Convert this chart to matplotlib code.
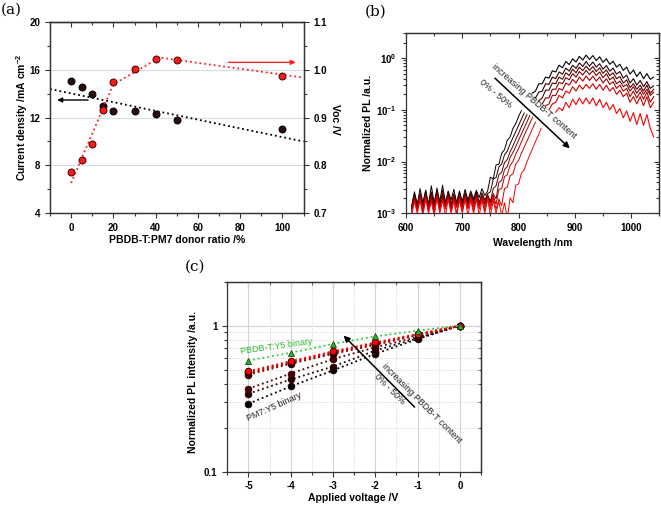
import numpy as np
import matplotlib
matplotlib.use('Agg')
import matplotlib.pyplot as plt
from matplotlib.ticker import MultipleLocator, LogLocator, NullFormatter, FuncFormatter, FixedLocator

plt.rcParams['font.family'] = ['Liberation Sans', 'DejaVu Sans']
plt.rcParams['font.weight'] = 'bold'
plt.rcParams['axes.unicode_minus'] = False
plt.rcParams['mathtext.fontset'] = 'custom'
plt.rcParams['mathtext.rm'] = 'Liberation Sans:bold'
plt.rcParams['mathtext.bf'] = 'Liberation Sans:bold'

# ---- (a) Jsc / Voc vs donor ratio
ratio = [0, 5, 10, 15, 20, 30, 40, 50, 100]
jsc = [15.08, 14.57, 13.98, 12.97, 12.58, 12.53, 12.31, 11.80, 11.02]
voc = [0.785, 0.812, 0.844, 0.916, 0.974, 1.003, 1.0225, 1.020, 0.9875]
jsc_fit_x = [-10, 110]
jsc_fit_y = [14.4, 10.0]
voc_fit_x = [0, 20, 42, 110]
voc_fit_y = [0.763, 0.970, 1.026, 0.984]

# ---- (b) PL spectra, 0% (black) -> 50% (red)
wl_lo = np.arange(610, 846, 5)        # short-wavelength detector part
wl_hi = np.arange(824, 1041, 6)       # long-wavelength part (curves end at 1040)
pl_lo = [  # units of 1e-3
    [1.4, 2.6, 1.5, 3.0, 1.6, 2.8, 1.5, 3.4, 1.6, 2.9, 1.7, 3.5, 1.6, 2.7, 1.8, 2.9, 1.6, 2.6, 1.7, 2.9,
     1.8, 2.7, 1.9, 2.8, 2.0, 3.0, 2.2, 2.7, 5.0, 4.6, 8.6, 8.9, 14.5, 17, 26, 30, 44, 54, 75, 96],
    [1.3, 2.4, 1.4, 2.2, 1.5, 2.7, 1.3, 2.5, 1.4, 3.1, 1.5, 2.4, 1.4, 2.6, 1.5, 2.3, 1.6, 2.7, 1.5, 2.4,
     1.6, 2.5, 1.7, 2.6, 1.6, 2.5, 1.8, 2.4, 2.6, 4.6, 4.9, 7.9, 9.0, 13.5, 16, 22, 29, 38, 50, 66, 87],
    [1.2, 2.2, 1.3, 2.5, 1.4, 2.1, 1.3, 2.6, 1.4, 2.3, 1.3, 2.8, 1.5, 2.2, 1.4, 2.4, 1.5, 2.2, 1.4, 2.5,
     1.5, 2.3, 1.6, 2.4, 1.5, 2.2, 1.6, 2.3, 1.7, 3.0, 3.4, 5.6, 6.2, 9.6, 11, 15.5, 20, 27, 35, 47, 62, 81],
    [1.2, 2.0, 1.2, 2.3, 1.3, 2.4, 1.2, 2.1, 1.3, 2.5, 1.2, 2.2, 1.4, 2.4, 1.3, 2.1, 1.4, 2.3, 1.3, 2.2,
     1.4, 2.4, 1.5, 2.1, 1.4, 2.3, 1.5, 2.2, 1.6, 2.4, 1.9, 4.0, 4.3, 7.0, 8.0, 12, 15, 19.5, 26, 34, 45, 59, 78],
    [1.1, 1.9, 1.2, 2.1, 1.1, 2.2, 1.2, 2.0, 1.1, 2.3, 1.2, 2.0, 1.3, 2.2, 1.2, 2.0, 1.3, 2.1, 1.2, 2.2,
     1.3, 2.0, 1.3, 2.2, 1.4, 2.0, 1.3, 2.1, 1.4, 2.2, 1.5, 2.9, 3.0, 5.1, 5.6, 8.5, 10, 14, 18, 24, 32, 42, 55, 72],
    [1.0, 1.8, 1.1, 1.9, 1.0, 2.0, 1.1, 1.8, 1.0, 2.1, 1.1, 1.8, 1.2, 2.0, 1.1, 1.9, 1.0, 2.0, 1.1, 1.9,
     1.2, 2.0, 1.1, 1.9, 1.2, 2.0, 1.1, 1.9, 1.2, 2.0, 1.2, 1.9, 1.4, 3.0, 3.2, 5.3, 5.8, 9.0, 10.5, 14.5, 19, 25, 33, 44, 58],
    [0.9, 1.7, 1.0, 1.8, 0.9, 1.9, 1.0, 1.7, 0.9, 2.0, 1.0, 1.8, 0.9, 1.9, 1.0, 1.7, 0.9, 1.8, 1.0, 1.9,
     0.9, 1.8, 1.0, 1.9, 0.9, 1.8, 1.0, 1.9, 0.9, 1.8, 1.0, 1.7, 0.9, 1.6, 0.8, 2.0, 1.6, 3.5, 3.7, 6.0, 6.9, 10, 13.5, 18, 24.5, 32, 44],
]
pl_hi = [
    [0.21, 0.23, 0.32, 0.32, 0.43, 0.41, 0.57, 0.54, 0.73, 0.65, 0.86, 0.75, 0.97, 0.84, 1.08, 0.92, 1.14, 0.94, 1.12, 0.90,
     1.06, 0.83, 0.97, 0.76, 0.87, 0.67, 0.76, 0.58, 0.67, 0.49, 0.59, 0.44, 0.54, 0.40, 0.50, 0.39, 0.43],
    [0.17, 0.22, 0.23, 0.32, 0.31, 0.43, 0.40, 0.54, 0.49, 0.64, 0.56, 0.73, 0.63, 0.81, 0.69, 0.86, 0.70, 0.84, 0.67, 0.78,
     0.61, 0.72, 0.56, 0.64, 0.49, 0.55, 0.41, 0.47, 0.33, 0.40, 0.30, 0.37, 0.28, 0.35, 0.26, 0.29],
    [0.15, 0.17, 0.24, 0.24, 0.33, 0.32, 0.43, 0.39, 0.52, 0.46, 0.61, 0.52, 0.67, 0.57, 0.70, 0.58, 0.69, 0.55, 0.65, 0.51,
     0.59, 0.46, 0.52, 0.40, 0.44, 0.33, 0.38, 0.27, 0.32, 0.25, 0.30, 0.23, 0.30, 0.21, 0.25],
    [0.13, 0.17, 0.17, 0.25, 0.25, 0.34, 0.32, 0.42, 0.38, 0.50, 0.43, 0.55, 0.47, 0.58, 0.48, 0.57, 0.46, 0.54, 0.42, 0.50,
     0.38, 0.43, 0.32, 0.36, 0.28, 0.31, 0.23, 0.28, 0.21, 0.26, 0.20, 0.25, 0.19, 0.22],
    [0.12, 0.13, 0.19, 0.19, 0.26, 0.24, 0.33, 0.30, 0.39, 0.33, 0.43, 0.36, 0.45, 0.37, 0.45, 0.36, 0.43, 0.33, 0.40, 0.31,
     0.35, 0.26, 0.30, 0.23, 0.26, 0.18, 0.23, 0.17, 0.22, 0.16, 0.22, 0.14, 0.18],
    [0.10, 0.13, 0.14, 0.19, 0.17, 0.23, 0.21, 0.28, 0.23, 0.30, 0.25, 0.31, 0.26, 0.32, 0.25, 0.31, 0.24, 0.30, 0.23, 0.27,
     0.20, 0.24, 0.18, 0.21, 0.14, 0.18, 0.13, 0.18, 0.12, 0.18, 0.11, 0.14],
    [0.09, 0.11, 0.097, 0.14, 0.11, 0.16, 0.126, 0.17, 0.13, 0.17, 0.13, 0.17, 0.12, 0.16, 0.11, 0.14, 0.10, 0.127, 0.085, 0.106,
     0.07, 0.096, 0.06, 0.088, 0.052, 0.085, 0.05, 0.081, 0.044, 0.03],
]
blend_colors = ['#000000', '#2a0000', '#550000', '#800000', '#aa0000', '#d40000', '#ff0000']

# ---- (c) PL quenching vs applied voltage
voltage = [-5, -4, -3, -2, -1, 0]
pl_blend = [
    [0.292, 0.384, 0.494, 0.641, 0.810, 1.0],   # PM7:Y5 binary
    [0.342, 0.428, 0.525, 0.675, 0.820, 1.0],
    [0.370, 0.470, 0.590, 0.711, 0.835, 1.0],
    [0.462, 0.548, 0.640, 0.738, 0.860, 1.0],
    [0.472, 0.556, 0.650, 0.748, 0.866, 1.0],
    [0.480, 0.564, 0.658, 0.758, 0.872, 1.0],
    [0.488, 0.572, 0.667, 0.768, 0.878, 1.0],
]
pl_pbdbt = [0.577, 0.652, 0.750, 0.845, 0.925, 1.0]

W, H = 661, 508
TICK_FS = 7
LABEL_FS = 7.5
NOTE_FS = 6.5


def box(l, t, r, b):
    return [l / W, 1 - b / H, (r - l) / W, (b - t) / H]


def style(ax):
    for s in ax.spines.values():
        s.set_linewidth(0.9)
        s.set_color('#333333')
    ax.tick_params(which='both', direction='out', labelsize=TICK_FS, width=0.8, color='#333333')
    ax.tick_params(which='major', length=3.5)
    ax.tick_params(which='minor', length=2)


def bold_ticks(ax):
    for lab in ax.get_xticklabels() + ax.get_yticklabels():
        lab.set_fontweight('bold')
        lab.set_family('Liberation Sans')


def mirror_x(ax, major, minor):
    sec = ax.secondary_xaxis('top')
    sec.xaxis.set_major_locator(major)
    sec.xaxis.set_minor_locator(minor)
    sec.tick_params(which='both', direction='in', labeltop=False, width=0.8, color='#333333')
    sec.tick_params(which='major', length=3.5)
    sec.tick_params(which='minor', length=2)
    sec.spines['top'].set_linewidth(0.9)
    sec.spines['top'].set_color('#333333')


def mirror_y_log(ax):
    sec = ax.secondary_yaxis('right')
    sec.yaxis.set_major_locator(LogLocator(base=10, numticks=10))
    sec.yaxis.set_minor_locator(LogLocator(base=10, subs=np.arange(2, 10), numticks=20))
    sec.yaxis.set_minor_formatter(NullFormatter())
    sec.tick_params(which='both', direction='in', labelright=False, width=0.8, color='#333333')
    sec.tick_params(which='major', length=3.5)
    sec.tick_params(which='minor', length=2)
    sec.spines['right'].set_linewidth(0.9)
    sec.spines['right'].set_color('#333333')


def note(ax, x, y, s, rot, color='#222222'):
    ax.text(x, y, s, rotation=rot, rotation_mode='anchor', ha='center', va='center',
            fontsize=NOTE_FS, fontweight='normal', family='Liberation Sans', color=color)


def arrow(ax, start, end, color='k', lw=1.1, head=9):
    ax.annotate('', xy=end, xytext=start,
                arrowprops=dict(arrowstyle='-|>', color=color, lw=lw, mutation_scale=head, shrinkA=0, shrinkB=0))


fig = plt.figure(figsize=(6.61, 5.08), dpi=100)

# ================= (a)
ax_a = fig.add_axes(box(50, 22.3, 303.5, 213))
ax_a2 = ax_a.twinx()
style(ax_a)
style(ax_a2)
ax_a.set_xlim(-10, 110)
ax_a.set_ylim(4, 20)
ax_a2.set_ylim(0.7, 1.1)
ax_a.xaxis.set_major_locator(MultipleLocator(20))
ax_a.xaxis.set_minor_locator(MultipleLocator(10))
ax_a.yaxis.set_major_locator(MultipleLocator(4))
ax_a.yaxis.set_minor_locator(MultipleLocator(2))
ax_a2.yaxis.set_major_locator(MultipleLocator(0.1))
ax_a2.yaxis.set_minor_locator(MultipleLocator(0.05))
ax_a2.yaxis.set_major_formatter(FuncFormatter(lambda v, p: '%.1f' % v))
ax_a.set_axisbelow(True)
ax_a.yaxis.grid(True, color='#d6dde0', lw=0.8)
mirror_x(ax_a, MultipleLocator(20), MultipleLocator(10))

ax_a.plot(jsc_fit_x, jsc_fit_y, ls=':', color='k', lw=1.3)
ax_a.plot(ratio, jsc, 'o', ls='none', mfc='#2b0b0b', mec='k', ms=5, mew=0.7)
ax_a2.plot(voc_fit_x, voc_fit_y, ls=':', color='#ff2020', lw=1.3)
ax_a2.plot(ratio, voc, 'o', ls='none', mfc='#ff1a1a', mec='#3a0000', ms=5, mew=0.7)
arrow(ax_a, (8, 13.48), (-6.6, 13.48), lw=1.0, head=7)
arrow(ax_a, (74.4, 16.64), (106.3, 16.64), color='#ff2020', lw=1.0, head=7)

ax_a.set_xlabel('PBDB-T:PM7 donor ratio /%', fontsize=LABEL_FS, fontweight='bold', va='center')
ax_a.xaxis.set_label_coords(0.5, -0.142)
ax_a.set_ylabel(r'Current density /mA cm$^{\mathbf{-2}}$', fontsize=LABEL_FS, fontweight='bold', va='center')
ax_a.yaxis.set_label_coords(-0.112, 0.5)
fig.text(335 / W, 1 - 119 / H, 'Voc /V', rotation=270, ha='center', va='center',
         fontsize=LABEL_FS, fontweight='bold')
bold_ticks(ax_a)
bold_ticks(ax_a2)

# ================= (b)
ax_b = fig.add_axes(box(406, 32.7, 659.3, 213.3))
style(ax_b)
ax_b.set_yscale('log')
ax_b.set_xlim(600, 1050)
ax_b.set_ylim(1e-3, 3.1)
ax_b.xaxis.set_major_locator(MultipleLocator(100))
ax_b.xaxis.set_minor_locator(MultipleLocator(50))
ax_b.yaxis.set_major_locator(LogLocator(base=10, numticks=10))
ax_b.yaxis.set_minor_locator(LogLocator(base=10, subs=np.arange(2, 10), numticks=20))
ax_b.yaxis.set_minor_formatter(NullFormatter())
ax_b.yaxis.set_major_formatter(FuncFormatter(lambda v, p: r'$\mathbf{10^{%d}}$' % round(np.log10(v))))
mirror_x(ax_b, MultipleLocator(100), MultipleLocator(50))
mirror_y_log(ax_b)

for lo, hi, c in zip(pl_lo, pl_hi, blend_colors):
    ax_b.plot(wl_lo[:len(lo)], np.array(lo) * 1e-3, color=c, lw=0.7)
    ax_b.plot(wl_hi[-len(hi):], hi, color=c, lw=0.8)

arrow(ax_b, (758, 0.41), (891, 0.018))
note(ax_b, 827.4, 0.147, 'increasing PBDB-T content', -41)
note(ax_b, 758.6, 0.207, '0% - 50%', -40)

ax_b.set_xlabel('Wavelength /nm', fontsize=LABEL_FS, fontweight='bold', va='center')
ax_b.xaxis.set_label_coords(0.5, -0.163)
ax_b.set_ylabel('Normalized PL /a.u.', fontsize=LABEL_FS, fontweight='bold', va='center')
ax_b.yaxis.set_label_coords(-0.149, 0.5)
bold_ticks(ax_b)

# ================= (c)
ax_c = fig.add_axes(box(227.3, 281.7, 481, 471.7))
style(ax_c)
ax_c.set_yscale('log')
ax_c.set_xlim(-5.5, 0.5)
ax_c.set_ylim(0.1, 2.0)
ax_c.xaxis.set_major_locator(MultipleLocator(1))
ax_c.xaxis.set_minor_locator(MultipleLocator(0.5))
ax_c.xaxis.set_major_formatter(FuncFormatter(lambda v, p: '%d' % round(v)))
ax_c.yaxis.set_major_locator(FixedLocator([0.1, 1]))
ax_c.yaxis.set_major_formatter(FuncFormatter(lambda v, p: '%g' % v))
ax_c.yaxis.set_minor_locator(LogLocator(base=10, subs=np.arange(2, 10), numticks=20))
ax_c.yaxis.set_minor_formatter(NullFormatter())
ax_c.set_axisbelow(True)
ax_c.grid(which='major', color='#cdd6da', lw=0.8)
ax_c.grid(which='minor', color='#c8c8c8', lw=0.6, ls=':')
mirror_x(ax_c, MultipleLocator(1), MultipleLocator(0.5))
mirror_y_log(ax_c)

for vals, c in zip(pl_blend, blend_colors):
    ax_c.plot(voltage, vals, ls=':', color=c, lw=1.3, marker='o', ms=4.8,
              mfc=c, mec='#1a0000', mew=0.6)
ax_c.plot(voltage, pl_pbdbt, ls=':', color='#33cc33', lw=1.3, marker='^', ms=5,
          mfc='#33aa33', mec='#124d12', mew=0.6)

note(ax_c, -4.34, 0.72, 'PBDB-T:Y5 binary', 8, color='#2db82d')
note(ax_c, -4.39, 0.28, 'PM7:Y5 binary', 24)
arrow(ax_c, (-1.07, 0.277), (-2.75, 0.855))
note(ax_c, -0.91, 0.292, 'increasing PBDB-T content', -45)
note(ax_c, -1.66, 0.37, '0% - 50%', -45)

ax_c.set_xlabel('Applied voltage /V', fontsize=LABEL_FS, fontweight='bold', va='center')
ax_c.xaxis.set_label_coords(0.497, -0.14)
ax_c.set_ylabel('Normalized PL intensity /a.u.', fontsize=LABEL_FS, fontweight='bold', va='center')
ax_c.yaxis.set_label_coords(-0.134, 0.47)
bold_ticks(ax_c)

# panel letters
for x, y, s in [(1, 10, '(a)'), (365, 12, '(b)'), (185, 267, '(c)')]:
    fig.text(x / W, 1 - y / H, s, family='DejaVu Serif', fontsize=11, fontweight='normal',
             ha='left', va='center')

fig.savefig('out.png', dpi=100)
